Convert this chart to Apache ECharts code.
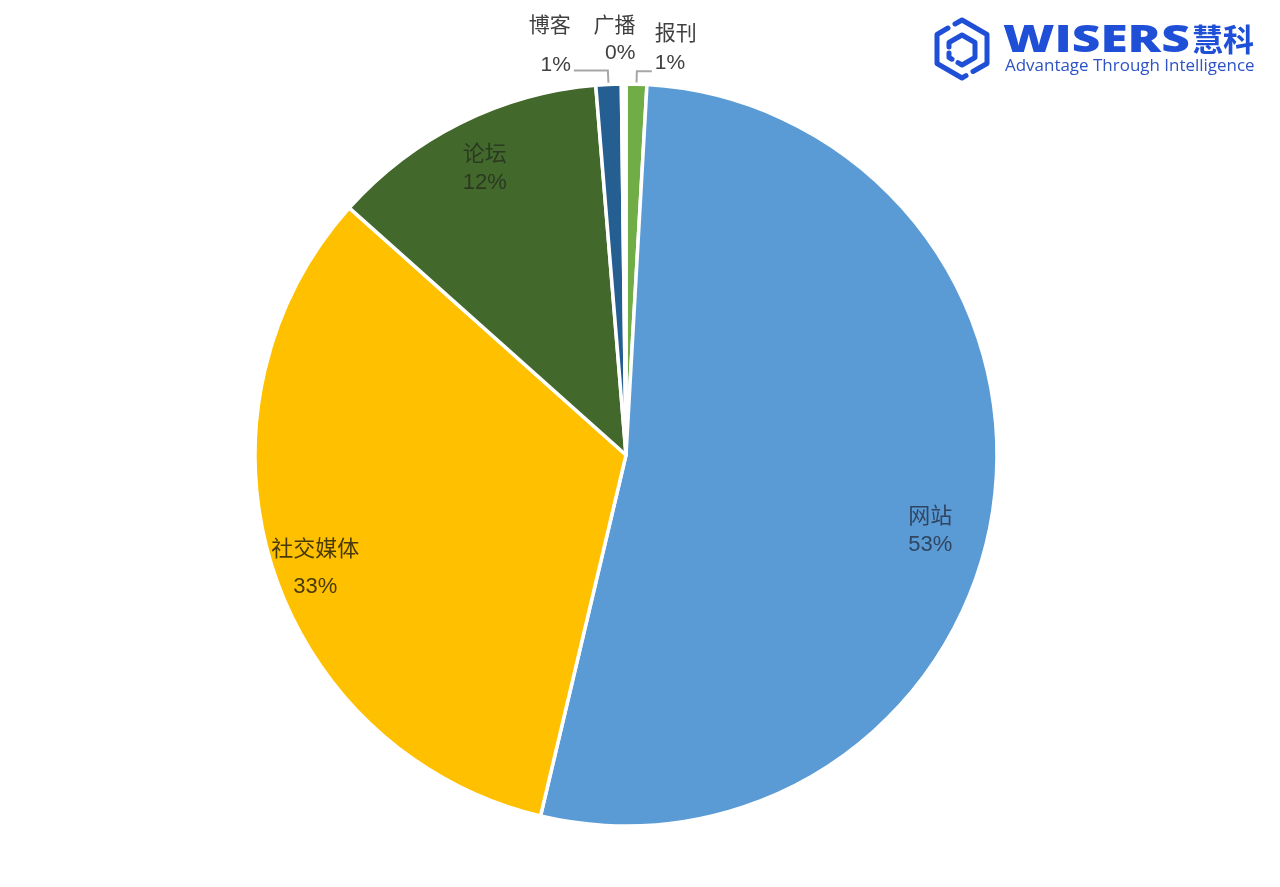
<!DOCTYPE html>
<html>
<head>
<meta charset="utf-8">
<script src="https://cdn.jsdelivr.net/npm/echarts@6/dist/echarts.min.js"></script>
<style>html,body{margin:0;padding:0;background:#fff}#c{width:1280px;height:887px}</style>
</head>
<body>
<div id="c"></div>
<script>
var categories = ['报刊', '网站', '社交媒体', '论坛', '博客', '广播'];
var values = [0.9, 52.8, 32.9, 12.1, 1.1, 0.2];
var colors = ['#70AD47', '#5B9BD5', '#FFC000', '#43682B', '#255E91', '#FFFFFF'];
var insideLabels = ['网站', '社交媒体', '论坛'];
var insideLabelColors = {'网站': '#2f4560', '社交媒体': '#4a3a08', '论坛': '#2a3a22'};

var FONT = '"Liberation Sans", "Noto Sans CJK SC", sans-serif';
var chart = echarts.init(document.getElementById('c'));
var R = 371;
var center = [626, 455];
function pct(p) { return Math.round(p.percent) + '%'; }

var mainData = categories.map(function (c, i) {
  var isIn = insideLabels.indexOf(c) >= 0;
  var item = { name: c, value: values[i], itemStyle: { color: colors[i] } };
  if (isIn) {
    item.label = { show: false };
    item.labelLine = { show: false };
  } else if (c === '广播') {
    item.label = { show: true, lineHeight: 27 };
    item.labelLine = { show: true, length: 44, length2: 2, lineStyle: { opacity: 0 } };
  } else if (c === '博客') {
    item.label = { show: true, lineHeight: 39 };
    item.labelLine = { show: true, length: 14, length2: 34 };
  } else {
    item.label = { show: true, lineHeight: 29 };
    item.labelLine = { show: true, length: 13, length2: 15 };
  }
  return item;
});

var overlayData = categories.map(function (c, i) {
  var isIn = insideLabels.indexOf(c) >= 0;
  return {
    name: c, value: values[i],
    label: isIn ? { show: true, color: insideLabelColors[c], lineHeight: c === '社交媒体' ? 37 : 28 } : { show: false }
  };
});

var mainShift = { 0: { dy: -22 }, 4: { dy: -25 }, 5: { dx: 17 } };
var overlayShift = { 1: { dx: -18, dy: 29 }, 2: { dy: 16 }, 3: { dx: 4, dy: 6 } };

chart.setOption({
  animation: false,
  series: [
    {
      type: 'pie',
      center: center,
      radius: [0, R],
      startAngle: 90,
      clockwise: true,
      avoidLabelOverlap: false,
      itemStyle: { borderColor: '#ffffff', borderWidth: 3.5 },
      label: {
        position: 'outside',
        formatter: function (p) { return p.name + '\n' + pct(p); },
        fontSize: 21,
        color: '#404040',
        fontFamily: FONT,
        distanceToLabelLine: 3
      },
      labelLine: { lineStyle: { color: '#a6a6a6', width: 2 }, smooth: false },
      labelLayout: function (p) { return mainShift[p.dataIndex] || {}; },
      data: mainData,
      silent: true
    },
    {
      type: 'pie',
      center: center,
      radius: [R * 0.74, R],
      startAngle: 90,
      clockwise: true,
      avoidLabelOverlap: false,
      itemStyle: { color: 'rgba(0,0,0,0)', borderWidth: 0 },
      label: {
        position: 'inside',
        formatter: function (p) { return p.name + '\n' + pct(p); },
        fontSize: 22,
        fontFamily: FONT
      },
      labelLine: { show: false },
      labelLayout: function (p) { return overlayShift[p.dataIndex] || {}; },
      data: overlayData,
      silent: true
    }
  ],
  graphic: [
    {
      type: 'group',
      silent: true,
      children: [
        { type: 'polyline', shape: { points: [[955, 24], [962, 20], [987, 34.5], [987, 63.5], [973, 71.5]] },
          style: { stroke: '#1f4fd6', lineWidth: 5, fill: null, lineJoin: 'round', lineCap: 'round' } },
        { type: 'polyline', shape: { points: [[948, 28], [937, 34.5], [937, 63.5], [962, 78], [966, 75.7]] },
          style: { stroke: '#1f4fd6', lineWidth: 5, fill: null, lineJoin: 'round', lineCap: 'round' } },
        { type: 'polyline', shape: { points: [[949, 47], [949, 42.5], [962, 35], [975, 42.5], [975, 57.5], [962, 65], [958, 62.7]] },
          style: { stroke: '#1f4fd6', lineWidth: 5, fill: null, lineJoin: 'round', lineCap: 'round' } },
        { type: 'polyline', shape: { points: [[949, 53], [949, 57.5], [952, 59.2]] },
          style: { stroke: '#1f4fd6', lineWidth: 5, fill: null, lineJoin: 'round', lineCap: 'round' } },
        { type: 'text', x: 1003, y: 23, scaleX: 1.34, style: { text: 'WISERS', font: '800 37px "Open Sans", sans-serif', fill: '#1f4fd6' } },
        { type: 'text', x: 1192, y: 24, style: { text: '慧科', font: 'bold 31px "Noto Sans CJK SC", sans-serif', fill: '#1f4fd6' } },
        { type: 'text', x: 1005, y: 58, scaleX: 1.06, style: { text: 'Advantage Through Intelligence', font: '16px "Open Sans", sans-serif', fill: '#2d52c8' } }
      ]
    }
  ]
});
</script>
</body>
</html>
